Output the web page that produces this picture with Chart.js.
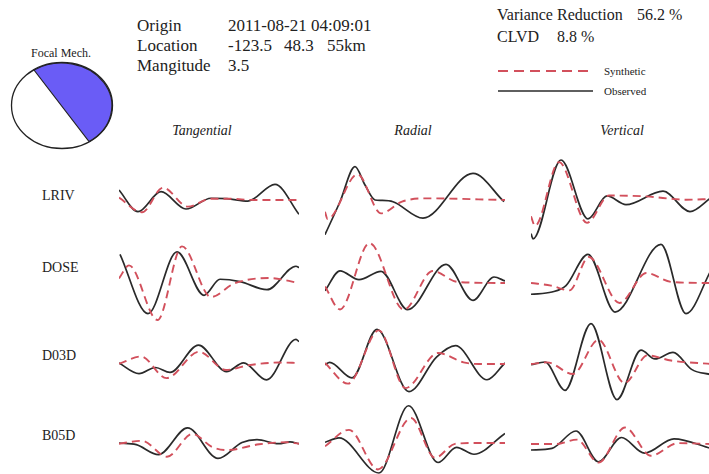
<!DOCTYPE html>
<html lang="en">
<head>
    <meta charset="UTF-8">
    <title>Waveform fit</title>
    <style>
        body {
            margin: 0;
            background: #fff;
        }
        #page {
            position: relative;
            width: 709px;
            height: 474px;
            overflow: hidden;
            font-family: "Liberation Serif", "DejaVu Serif", serif;
            color: #222;
        }
        .txt {
            position: absolute;
            white-space: pre;
            line-height: 20px;
        }
        .big { font-size: 17px; }
        .mid { font-size: 16px; }
        .small { font-size: 11px; }
        .title {
            font-size: 14px;
            font-style: italic;
            transform: translateX(-50%);
        }
        .station { font-size: 14px; }
        canvas { position: absolute; }
    </style>
    <script src="https://cdn.jsdelivr.net/npm/chart.js"></script>
</head>
<body>
<div id="page">
    <!-- focal mechanism -->
    <div class="txt" style="left:31px; top:43px; font-size:12px;">Focal Mech.</div>
    <svg style="position:absolute; left:0; top:0;" width="130" height="160">
        <ellipse cx="62" cy="105.5" rx="50.5" ry="43" fill="#fff" stroke="#222" stroke-width="1.3"/>
        <path d="M34,70 L89,141.5 A49,41.5 0 0,0 34,70 Z" fill="#6a5cf6" stroke="#222" stroke-width="1.2"/>
    </svg>

    <!-- header -->
    <div class="txt big" style="left:137px; top:16px;">Origin</div>
    <div class="txt big" style="left:228px; top:16px;">2011-08-21 04:09:01</div>
    <div class="txt big" style="left:137px; top:36px;">Location</div>
    <div class="txt big" style="left:228px; top:36px;">-123.5</div>
    <div class="txt big" style="left:284px; top:36px;">48.3</div>
    <div class="txt big" style="left:327px; top:36px;">55km</div>
    <div class="txt big" style="left:137px; top:56px;">Mangitude</div>
    <div class="txt big" style="left:228px; top:56px;">3.5</div>

    <div class="txt mid" style="left:497px; top:5px;">Variance Reduction</div>
    <div class="txt mid" style="left:637px; top:5px;">56.2 %</div>
    <div class="txt mid" style="left:497px; top:27px;">CLVD</div>
    <div class="txt mid" style="left:557px; top:27px;">8.8 %</div>

    <svg style="position:absolute; left:490px; top:60px;" width="110" height="40">
        <line x1="8" y1="11" x2="103" y2="11" stroke="#d2505c" stroke-width="1.8" stroke-dasharray="10,6"/>
        <line x1="8" y1="31" x2="103" y2="31" stroke="#2a2a2a" stroke-width="1.6"/>
    </svg>
    <div class="txt small" style="left:604px; top:61px;">Synthetic</div>
    <div class="txt small" style="left:604px; top:81px;">Observed</div>
</div>

<script>
    // stations / components
    const stations = ['LRIV', 'DOSE', 'D03D', 'B05D'];
    const components = ['Tangential', 'Radial', 'Vertical'];

    // traces as [time, amplitude] (time 0-180 per panel)
    const lrivTanObs = [[0,11.5],[19,-13.5],[42,9.6],[67,-10.4],[92,2],[108,1.5],[129,-1.2],[156,18],[180,-16.5]];
    const lrivTanSyn = [[0,2.7],[23,-14.2],[44,14.2],[69,-7.7],[92,1.5],[110,1.5],[135,0],[180,0]];
    const lrivRadObs = [[0,-40],[15,-2],[30,38.5],[40,17.3],[50,0],[56,-0.5],[68,-2],[98,-21],[148,30.8],[179,-1.9]];
    const lrivRadSyn = [[0,-13.5],[2.5,-22],[32.5,29.6],[56,-15.4],[77,-1.9],[100,1.9],[180,0]];
    const lrivVerObs = [[0,-40],[2,-46],[30,45],[57,-23],[76,3.5],[95,-6.5],[132,9],[159,-14.5],[180,1.5]];
    const lrivVerSyn = [[0,-20],[4,-31],[28,42.5],[56,-27.5],[78,4],[115,3],[155,-0.8],[180,0]];

    const doseTanObs = [[1,30.8],[29,-37.7],[58,33.5],[85,-16.5],[101,2],[121,-0.7],[148,-10],[177,17],[180,15.4]];
    const doseTanSyn = [[0,3],[10,18],[38.5,-45],[63,40],[92,-18.5],[115,-3],[150,3.5],[180,-2.3]];
    const doseRadObs = [[0,-9],[15,14],[34,3.8],[56,13.5],[82.7,-30.8],[121,21.5],[148,-20],[169,6.9],[180,2.3]];
    const doseRadSyn = [[0,-4],[15,-30.5],[44.5,46],[78.8,-30.8],[107.7,13.8],[132.7,1.2],[180,0]];
    const doseVerObs = [[0,-13],[21,-10.4],[35,-3],[57,33],[84,-33.5],[130,44.6],[155,-35.4],[180,14.6]];
    const doseVerSyn = [[0,0],[20,-3],[38.5,-8.5],[57.7,30],[88.5,-23],[115.4,11.5],[140.4,1.2],[180,0]];

    const d03dTanObs = [[0,0],[20,-12.3],[36.5,-5.2],[51,-10.8],[79.5,20.7],[107.5,-10],[124.5,0.2],[147.5,-19.5],[177,27.2],[180,24.6]];
    const d03dTanSyn = [[0,-0.8],[22,7.5],[47.5,-17.5],[80,13],[107,-8],[130,-2.5],[160,0.5],[180,0]];
    const d03dRadObs = [[0,-0.8],[4.6,1.9],[27,-16],[52,40],[84,-31.8],[111.5,8],[130.5,21.2],[162,-18.2],[180,1.2]];
    const d03dRadSyn = [[0,1.2],[23,-22.7],[53.8,38.8],[80.5,-27.8],[113,12.7],[138.5,1.9],[153.8,0],[180,0]];
    const d03dVerObs = [[0,-0.8],[14,2.3],[34,-30.4],[60,46.5],[86,-41],[110,16],[124,5.8],[142,13.5],[161,-6.5],[180,-12.3]];
    const d03dVerSyn = [[0,0],[16,1.9],[42,-11.5],[67.5,28],[93.5,-22],[116.5,10],[140,4],[180,0]];

    const b05dTanObs = [[0,0],[17.3,-1.9],[39.5,-13.5],[68.5,17.4],[99,-17.8],[123,0.5],[138,3.8],[159.6,-0.8],[171,1.2],[180,-0.8]];
    const b05dTanSyn = [[0,-0.8],[23,2.5],[48,-15.8],[73.5,10.5],[93,-4.5],[108,-8.2],[140,-1.5],[167,0.8],[180,-0.8]];
    const b05dRadObs = [[0,0.8],[14,5.8],[54,-34.6],[83.5,43],[113,-22.5],[131.5,-5],[149,-13],[180,11]];
    const b05dRadSyn = [[0,-3.8],[24,15.2],[53,-30.5],[86,28.8],[110,-17],[130,-1],[150,0],[180,0]];
    const b05dVerObs = [[0,-6.9],[21,-5],[45,15],[67.5,-20.5],[90.5,7.5],[113.5,-10.5],[143,6],[180,-5]];
    const b05dVerSyn = [[0,0],[25,0],[46,5],[67.5,-21.5],[94,19],[120,-13.5],[147,1],[180,0]];

    const observed = [
        [lrivTanObs, lrivRadObs, lrivVerObs],
        [doseTanObs, doseRadObs, doseVerObs],
        [d03dTanObs, d03dRadObs, d03dVerObs],
        [b05dTanObs, b05dRadObs, b05dVerObs]
    ];
    const synthetic = [
        [lrivTanSyn, lrivRadSyn, lrivVerSyn],
        [doseTanSyn, doseRadSyn, doseVerSyn],
        [d03dTanSyn, d03dRadSyn, d03dVerSyn],
        [b05dTanSyn, b05dRadSyn, b05dVerSyn]
    ];

    // page layout
    const colLeft = [119, 325, 531];
    const titleX = [202, 413, 622];
    const rowBase = [[200, 200, 199], [281, 283, 283], [363, 364, 364], [443, 443, 444]];
    const labelY = [197, 269, 357, 437];
    const panelW = 180, panelH = 100, ampMax = 57.7;

    const page = document.getElementById('page');

    components.forEach((c, j) => {
        const d = document.createElement('div');
        d.className = 'txt title';
        d.style.left = titleX[j] + 'px';
        d.style.top = '121px';
        d.textContent = c;
        page.appendChild(d);
    });

    function toPoints(arr) {
        return arr.map(p => ({ x: p[0], y: p[1] }));
    }

    function drawPanel(left, base, obs, syn) {
        const cv = document.createElement('canvas');
        cv.width = panelW;
        cv.height = panelH;
        cv.style.left = left + 'px';
        cv.style.top = (base - panelH / 2) + 'px';
        page.appendChild(cv);

        new Chart(cv, {
            type: 'line',
            data: {
                datasets: [{
                    label: 'Synthetic',
                    data: toPoints(syn),
                    borderColor: '#d2505c',
                    borderWidth: 1.9,
                    borderDash: [8, 5],
                    clip: 4,
                    order: 0
                }, {
                    label: 'Observed',
                    data: toPoints(obs),
                    borderColor: '#2a2a2a',
                    borderWidth: 1.7,
                    clip: 4,
                    order: 1
                }]
            },
            options: {
                responsive: false,
                animation: false,
                events: [],
                layout: { padding: 0 },
                plugins: { legend: { display: false }, tooltip: { enabled: false } },
                elements: {
                    point: { radius: 0 },
                    line: { cubicInterpolationMode: 'monotone', fill: false }
                },
                scales: {
                    x: { type: 'linear', min: 0, max: 180, display: false },
                    y: { min: -ampMax, max: ampMax, display: false }
                }
            }
        });
    }

    stations.forEach((s, i) => {
        const d = document.createElement('div');
        d.className = 'txt station';
        d.style.left = '42px';
        d.style.top = (labelY[i] - 11) + 'px';
        d.textContent = s;
        page.appendChild(d);

        components.forEach((c, j) => {
            drawPanel(colLeft[j], rowBase[i][j], observed[i][j], synthetic[i][j]);
        });
    });
</script>
</body>
</html>
